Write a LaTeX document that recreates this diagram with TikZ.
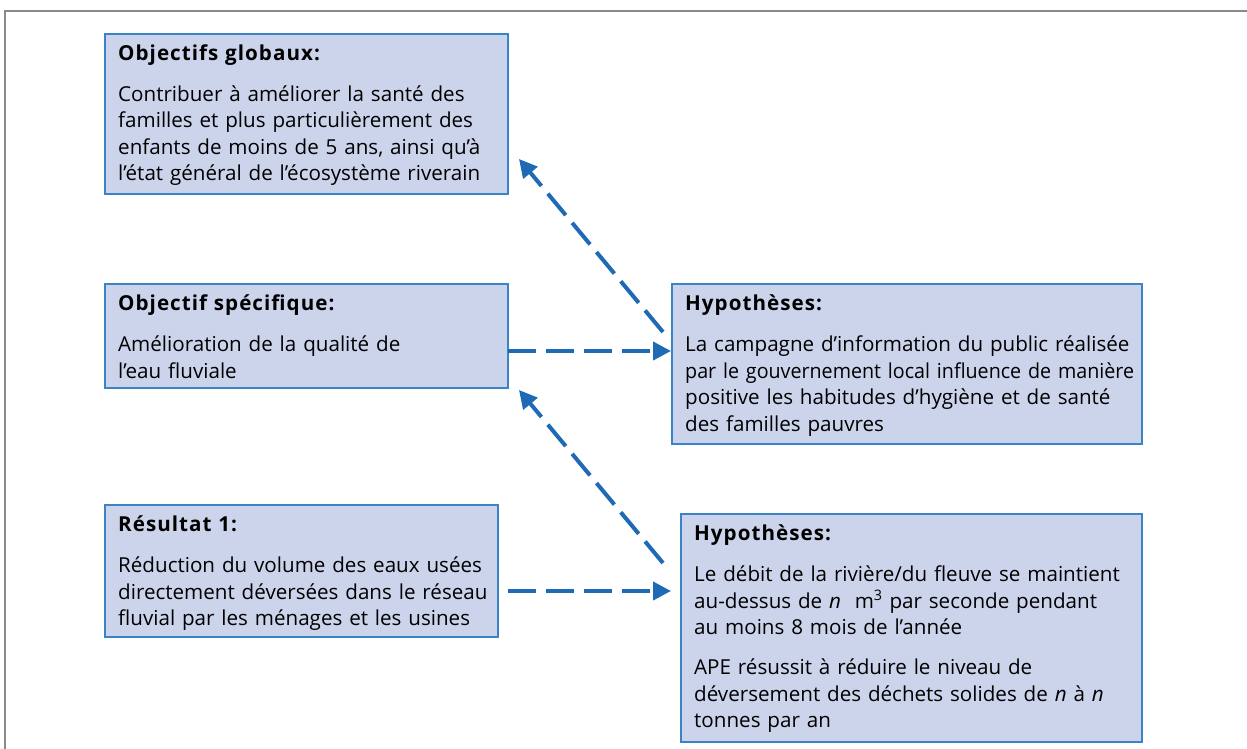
\documentclass[tikz,border=0pt]{standalone}
\usepackage{fontspec}
\setmainfont{Open Sans}
\usetikzlibrary{arrows.meta}
\definecolor{boxfill}{HTML}{CCD4EC}
\definecolor{boxline}{HTML}{3A84C6}
\definecolor{arrblue}{HTML}{1F6AB4}
\definecolor{framegray}{HTML}{8A8A8A}
\newcommand{\hd}[1]{{\addfontfeatures{LetterSpace=5}\bfseries #1}}
\begin{document}
\begin{tikzpicture}[x=1pt,y=-1pt,
  box/.style={draw=boxline, fill=boxfill, line width=1.3pt, inner sep=0pt, outer sep=0pt, anchor=north west},
  txt/.style={anchor=base west, inner sep=0pt, align=left, text width=560pt, font=\fontsize{20.6pt}{26.5pt}\selectfont},
  arr/.style={draw=arrblue, line width=4pt, dash pattern=on 28pt off 10pt, -{Triangle[length=18pt,width=18pt]}}]
\useasboundingbox (0,0) rectangle (1247,749);
\draw[framegray, line width=2pt] (5,749) -- (5,11) -- (1247,11);

\node[box, minimum width=403pt, minimum height=160pt] (og) at (105,34) {};
\node[box, minimum width=403pt, minimum height=104pt] (os) at (105,284) {};
\node[box, minimum width=393pt, minimum height=132pt] (r1) at (105,505) {};
\node[box, minimum width=470pt, minimum height=160pt] (h1) at (672,284) {};
\node[box, minimum width=461pt, minimum height=228pt] (h2) at (681,514) {};

\node[txt] (ogt) at (118,60.5) {\hd{Objectifs globaux:}\par\vspace{14.5pt}%
Contribuer à améliorer la santé des\\
familles et plus particulièrement des\\
enfants de moins de 5 ans, ainsi qu’à\\
l’état général de l’écosystème riverain};

\node[txt] (ost) at (118,310.5) {\hd{Objectif spécifique:}\par\vspace{14.5pt}%
Amélioration de la qualité de\\
l’eau fluviale};

\node[txt] (r1t) at (118,531.5) {\hd{Résultat 1:}\par\vspace{14.5pt}%
Réduction du volume des eaux usées\\
directement déversées dans le réseau\\
fluvial par les ménages et les usines};

\node[txt] (h1t) at (685,310.5) {\hd{Hypothèses:}\par\vspace{14.5pt}%
La campagne d’information du public réalisée\\
{\addfontfeatures{FakeStretch=0.955}par le gouvernement local influence de manière}\\
positive les habitudes d’hygiène et de santé\\
des familles pauvres};

\node[txt] (h2t) at (694,540.5) {\hd{Hypothèses:}\par\vspace{14.5pt}%
Le débit de la rivière/du fleuve se maintient\\
au-dessus de \textit{n}~ m\textsuperscript{3} par seconde pendant\\
au moins 8 mois de l’année\par\vspace{13.5pt}%
APE résussit à réduire le niveau de\\
déversement des déchets solides de \textit{n} à \textit{n}\\
tonnes par an};

\coordinate (a1) at (663,332);
\coordinate (a2) at (519,159);
\coordinate (b1) at (508,351);
\coordinate (b2) at (671,351);
\coordinate (c1) at (663,563);
\coordinate (c2) at (519,390);
\coordinate (d1) at (508,591);
\coordinate (d2) at (671,591);
\draw[arr] (a1) -- (a2);
\draw[arr] (b1) -- (b2);
\draw[arr] (c1) -- (c2);
\draw[arr] (d1) -- (d2);
\end{tikzpicture}
\end{document}
